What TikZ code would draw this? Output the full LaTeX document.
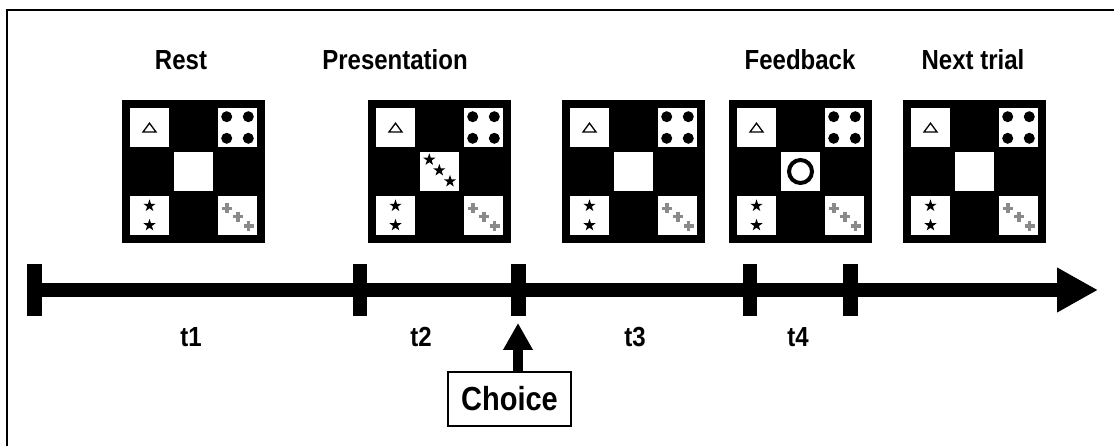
\documentclass[tikz,border=0pt]{standalone}
\usepackage{fontspec}
\setmainfont{Liberation Sans}
\usetikzlibrary{arrows.meta}
\definecolor{plusgray}{RGB}{138,138,138}
\newcommand\tallertext[1]{\scalebox{1}[1.15]{#1}}
\tikzset{
  title/.style={font=\fontsize{24}{24}\selectfont\bfseries, anchor=base, inner sep=0pt},
  tlabel/.style={font=\fontsize{24}{24}\selectfont\bfseries, anchor=base, inner sep=0pt},
  tickbar/.style={fill=black},
  starp/.pic={\fill[black] (-90:6.4) -- (-54:2.5) -- (-18:6.4) -- (18:2.5) -- (54:6.4) -- (90:2.5) -- (126:6.4) -- (162:2.5) -- (198:6.4) -- (234:2.5) -- cycle;},
  plusp/.pic={\draw[plusgray, line width=3.2pt] (-5,0) -- (5,0) (0,-5) -- (0,5);},
  panel/.pic={
    \fill[black] (0,0) rectangle (143,143);
    \fill[white] (8,8) rectangle +(39,39);
    \fill[white] (96,8) rectangle +(39,39);
    \fill[white] (52,52) rectangle +(39,39);
    \fill[white] (8,96) rectangle +(39,39);
    \fill[white] (96,96) rectangle +(39,39);
    \draw[black, line width=1.3pt, line join=miter] (21,32) -- (34,32) -- (27.5,23.2) -- cycle;
    \foreach \dx in {-10.8,10.8}{\foreach \dy in {-10.8,10.8}{\fill[black] (115.5+\dx,27.5+\dy) circle (5.5);}}
    \pic at (27.5,105.8) {starp};
    \pic at (27.5,125.2) {starp};
    \pic at (105,108.3) {plusp};
    \pic at (116,116.7) {plusp};
    \pic at (126.7,126) {plusp};
  },
  centerstars/.pic={
    \pic at (-11.2,-11.8) {starp};
    \pic at (-1.2,-1.2) {starp};
    \pic at (9.5,9.8) {starp};
  },
  centerring/.pic={\draw[black, line width=4pt] (0,0) circle (11.5);}
}
\begin{document}
\begin{tikzpicture}[x=1pt,y=-1pt]
\useasboundingbox (0,0) rectangle (1114,446);
% frame
\draw[line width=2pt] (6.5,446) -- (6.5,10) -- (1114,10);
% titles
\node[title] (trest) at (181,70) {\tallertext{Rest}};
\node[title] (tpres) at (395,70) {\tallertext{Presentation}};
\node[title] (tfeed) at (800,70) {\tallertext{Feedback}};
\node[title] (tnext) at (973,70) {\tallertext{Next trial}};
% panels
\pic at (122,100) {panel};
\pic at (368,100) {panel};
\pic at (440.5,171.5) {centerstars};
\pic at (562,100) {panel};
\pic at (729,100) {panel};
\pic at (800.5,171.5) {centerring};
\pic at (903,100) {panel};
% timeline
\coordinate (tlstart) at (27,290);
\coordinate (tlend) at (1098,290);
\draw[line width=14pt, -{Triangle[width=42pt,length=41pt]}] (tlstart) -- (tlend);
\foreach \tx in {34.5,360,518.5,750,850.5}{\fill[tickbar] (\tx-7.25,264) rectangle (\tx+7.25,316);}
% interval labels
\node[tlabel] (l1) at (191,346) {\tallertext{t1}};
\node[tlabel] (l2) at (421,346) {\tallertext{t2}};
\node[tlabel] (l3) at (635,346) {\tallertext{t3}};
\node[tlabel] (l4) at (798,346) {\tallertext{t4}};
% choice
\node[draw, line width=1.2pt, minimum width=123pt, minimum height=54pt, inner sep=0pt, font=\fontsize{29}{29}\selectfont\bfseries] (choice) at (509.5,399) {\tallertext{Choice}};
\coordinate (choicetip) at (518,323);
\draw[line width=10pt, -{Triangle[width=28pt,length=27pt]}] (choice.north -| choicetip) -- (choicetip);
\end{tikzpicture}
\end{document}
